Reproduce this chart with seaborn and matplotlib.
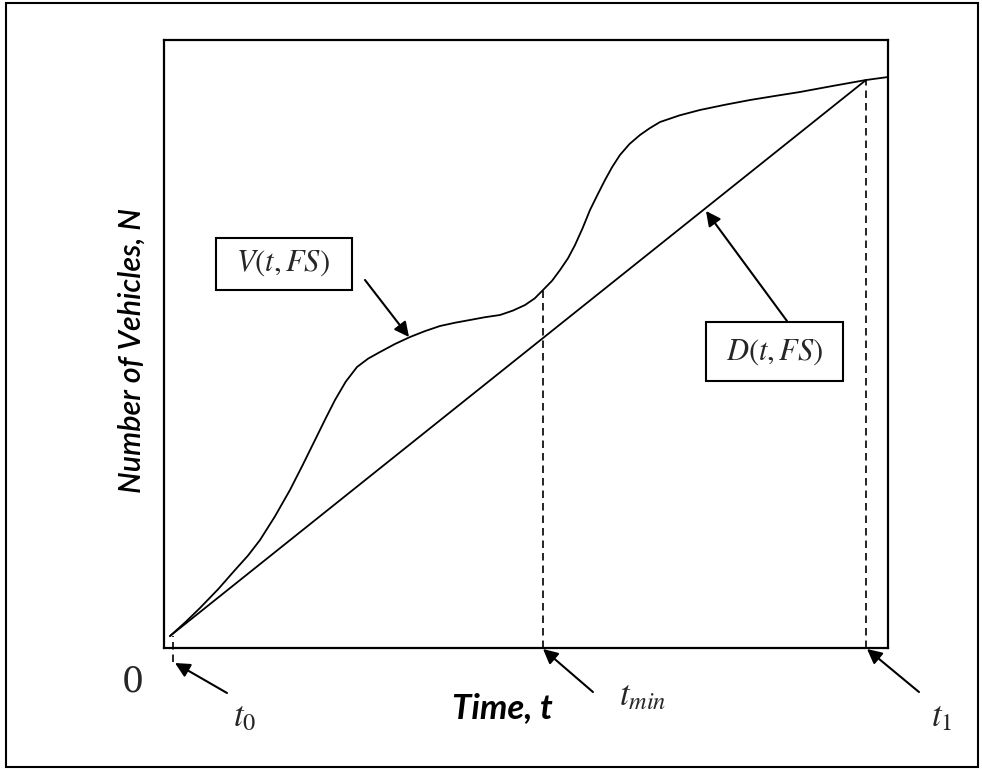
import matplotlib
matplotlib.use("Agg")
import matplotlib.pyplot as plt
import seaborn as sns
import pandas as pd
from matplotlib.patches import Rectangle

# ---- data (axes units 0..100) ----
v_time = [0.83, 3.0, 4.97, 7.5, 9.81, 11.6, 13.26, 15.3, 17.40, 19.2, 20.86,
          22.3, 23.62, 25.1, 26.66, 28.2, 29.83, 31.9, 33.98, 36.0, 38.12,
          40.2, 42.27, 44.3, 46.41, 48.2, 49.86, 51.2, 52.35, 53.6, 54.70,
          55.8, 56.77, 57.8, 58.84, 59.9, 60.91, 61.9, 62.98, 64.3, 65.75,
          67.1, 68.51, 71.2, 74.03, 77.5, 80.94, 84.4, 87.85, 92.4, 96.96,
          100.0]
v_count = [1.97, 4.3, 6.58, 9.7, 12.83, 15.2, 17.76, 21.6, 25.99, 30.2, 34.21,
           37.7, 40.79, 43.8, 46.22, 47.6, 48.68, 50.0, 51.15, 52.1, 52.96,
           53.5, 53.95, 54.4, 54.77, 55.5, 56.41, 57.5, 58.88, 60.4, 62.17,
           64.1, 66.28, 69.0, 72.04, 74.6, 76.97, 79.1, 81.09, 82.9, 84.38,
           85.5, 86.51, 87.6, 88.49, 89.35, 90.13, 90.8, 91.45, 92.45, 93.42,
           93.91]
d_time = [0.83, 96.96]
d_count = [1.97, 93.42]

event_labels = [r"$t_0$", r"$t_{min}$", r"$t_1$"]
event_times = [1.24, 52.35, 96.96]
event_tops = [1.97, 58.88, 93.42]
event_bottoms = [-2.3, 0.0, 0.0]

sns.set_theme(style="white")
plt.rcParams["mathtext.fontset"] = "stix"
plt.rcParams["font.family"] = ["Lato", "DejaVu Sans"]

fig = plt.figure(figsize=(9.82, 7.70), dpi=100)
ax = fig.add_axes([164 / 982, 1 - 648 / 770, 724 / 982, 608 / 770])

vdf = pd.DataFrame({"t": v_time, "N": v_count})
ddf = pd.DataFrame({"t": d_time, "N": d_count})
sns.lineplot(data=vdf, x="t", y="N", ax=ax, color="black", lw=1.3,
             sort=False, estimator=None)
sns.lineplot(data=ddf, x="t", y="N", ax=ax, color="black", lw=1.3,
             sort=False, estimator=None)

for x, y0, y1 in zip(event_times, event_bottoms, event_tops):
    ax.plot([x, x], [y0, y1], color="black", lw=1.2, dashes=(4.5, 3.0),
            clip_on=False)

ax.set_xlim(0, 100)
ax.set_ylim(0, 100)
ax.set_xticks([])
ax.set_yticks([])
for s in ax.spines.values():
    s.set_visible(True)
    s.set_color("black")
    s.set_linewidth(1.6)

ax.set_xlabel("Time, t", fontsize=25, fontweight="bold", fontstyle="italic",
              color="black", va="center")
ax.xaxis.set_label_coords(0.468, -0.0987)
ax.set_ylabel("Number of Vehicles, N", fontsize=22, fontstyle="italic",
              fontweight="semibold", color="black", va="center")
ax.yaxis.set_label_coords(-0.045, 0.49)

ax.text(-4.28, -5.59, "0", fontsize=25, family="DejaVu Serif",
        ha="center", va="center", clip_on=False)

arrow = dict(arrowstyle="-|>", mutation_scale=22, lw=1.5, color="black",
             shrinkA=0, shrinkB=0)

# event arrows and labels
heads = [(1.52, -2.47), (52.35, -0.16), (97.1, -0.16)]
tails = [(8.70, -7.40), (59.25, -7.24), (104.28, -7.24)]
lab_pos = [(11.19, -11.3), (66.16, -7.9), (107.46, -11.3)]
for lab, h, t, p in zip(event_labels, heads, tails, lab_pos):
    ax.annotate("", xy=h, xytext=t, arrowprops=arrow, annotation_clip=False)
    ax.text(p[0], p[1], lab, fontsize=25, ha="center", va="center",
            clip_on=False)

# curve labels in boxes
boxes = [
    (r"$V(t,FS)$", (7.18, 58.88, 18.79, 8.55), (16.44, 63.32),
     (27.76, 60.53), (33.84, 51.15)),
    (r"$D(t,FS)$", (74.86, 43.91, 18.92, 9.71), (84.4, 48.68),
     (86.05, 53.78), (74.86, 71.88)),
]
for lab, (bx, by, bw, bh), (tx, ty), tail, head in boxes:
    ax.add_patch(Rectangle((bx, by), bw, bh, fill=True, facecolor="white",
                           edgecolor="black", lw=1.5, zorder=3))
    ax.text(tx, ty, lab, fontsize=22, ha="center", va="center", zorder=4)
    ax.annotate("", xy=head, xytext=tail, arrowprops=arrow)

# outer frame
fig.patches.append(Rectangle((6 / 982, 3 / 770), 972 / 982, 764 / 770,
                             transform=fig.transFigure, fill=False,
                             edgecolor="black", lw=1.5))

fig.savefig("out.png", dpi=100)
